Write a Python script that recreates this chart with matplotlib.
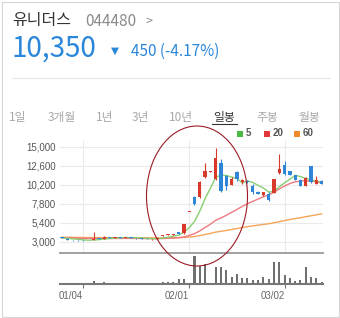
import matplotlib
matplotlib.use('Agg')
import numpy as np
import pandas as pd
import matplotlib.pyplot as plt
from matplotlib.patches import Ellipse, Rectangle

W, H = 340, 318

# daily candles, 50 sessions (12/28 .. 03/11)
opens = [3550, 3400, 3230, 3200, 3200, 3190, 3250, 3420, 3400, 3600,
         3520, 3560, 3500, 3580, 3490, 3420, 3380, 3320, 3350, 3700,
         3850, 3920, 4200, 4100, 6800, 8640, 8730, 11240, 11870, 10950,
         13030, 11360, 10240, 11780, 10620, 10700, 10020, 9270, 8860, 9070,
         9200, 11650, 12740, 11900, 11400, 10820, 10110, 12620, 10350, 10750]
highs = [3600, 3420, 3260, 3250, 3240, 3260, 4250, 3480, 3780, 3650,
         3580, 3600, 3600, 3620, 3520, 3450, 3420, 3380, 3480, 3880,
         3960, 4050, 4280, 5300, 6800, 8770, 10740, 13030, 11900, 14840,
         13460, 11450, 11150, 11990, 10950, 10780, 10320, 9480, 9300, 9270,
         11000, 14080, 13250, 11950, 11450, 10900, 11240, 12650, 11350, 10800]
lows = [3430, 3180, 3150, 3150, 3160, 3170, 3230, 3330, 3380, 3480,
        3470, 3480, 3480, 3470, 3400, 3360, 3300, 3280, 3340, 3680,
        3820, 3880, 3950, 4050, 6800, 7660, 8570, 11080, 11850, 10820,
        9360, 9570, 10200, 10650, 10300, 10450, 9070, 9030, 8850, 8100,
        9150, 11600, 11500, 11450, 10800, 10050, 10050, 10450, 10300, 10300]
closes = [3450, 3220, 3180, 3190, 3180, 3230, 3400, 3360, 3600, 3500,
          3560, 3500, 3580, 3490, 3420, 3380, 3320, 3350, 3450, 3850,
          3920, 3980, 4000, 5230, 6800, 7820, 10520, 11900, 11870, 13580,
          9480, 10110, 10950, 10950, 10850, 10550, 9270, 9070, 9270, 8320,
          10950, 12200, 11580, 11500, 10850, 10110, 11080, 10520, 10800, 10350]
# volume, thousand shares
volumes = [300, 250, 200, 200, 250, 300, 3500, 500, 2000, 400,
           350, 300, 400, 300, 250, 250, 300, 300, 500, 2000,
           2000, 2500, 5000, 4700, 900, 28000, 18000, 20000, 1200, 17300,
           17300, 14000, 7300, 10000, 5700, 6300, 4000, 4000, 6700, 4700,
           22000, 22500, 9000, 6500, 3300, 4000, 16700, 7300, 5700, 2300]
# closes before the visible window (for the moving averages)
history = [3720, 3700, 3750, 3680, 3650, 3700, 3660, 3640, 3690, 3710,
           3670, 3650, 3620, 3640, 3600, 3630, 3610, 3580, 3600, 3620,
           3590, 3570, 3600, 3650, 3620, 3580, 3560, 3590, 3610, 3570,
           3550, 3580, 3600, 3560, 3540, 3570, 3550, 3520, 3540, 3560,
           3530, 3500, 3520, 3540, 3510, 3490, 3520, 3500, 3480, 3510,
           3530, 3500, 3480, 3490, 3520, 3540, 3510, 3500, 3520]

tick_idx = [4, 24, 42]
tick_labels = ['01/04', '02/01', '03/02']
price_ticks = [3000, 5400, 7800, 10200, 12600, 15000]

tabs = ['1일', '3개월', '1년', '3년', '10년', '일봉', '주봉', '월봉']
tab_x = [18, 61.5, 104.5, 140.5, 181, 224.5, 267, 309]

RED = '#d8392b'
BLUE = '#2f86d6'
MA_COLORS = {5: '#86cf72', 20: '#ee7a7e', 60: '#f5a55a'}
LEG_COLORS = {5: '#4cb944', 20: '#e2383a', 60: '#f0892a'}

def fx(x):
    return x / W

def fy(y):
    return 1 - y / H

fig = plt.figure(figsize=(W / 100, H / 100), dpi=100)
fig.patch.set_facecolor('white')

# card border
fig.add_artist(Rectangle((fx(1.5), fy(316.5)), fx(337), 315 / H, transform=fig.transFigure,
                         fill=False, edgecolor='#d6d6d6', linewidth=0.8))

kr = ['Noto Sans CJK KR', 'DejaVu Sans']

# header
fig.text(fx(12), fy(21), '유니더스', fontsize=11.5, color='#333333', family=kr, va='center')
fig.text(fx(85), fy(21), '044480', fontsize=11, color='#8a8a8a', family=kr, va='center')
fig.text(fx(146), fy(21), '>', fontsize=9, color='#8a8a8a', family=kr, va='center')
fig.text(fx(11), fy(49), '10,350', fontsize=20, color='#2b87da', family=kr, va='center')
fig.text(fx(111), fy(51), '▼', fontsize=7.5, color='#2b87da', family='DejaVu Sans', va='center')
fig.text(fx(131), fy(51), '450 (-4.17%)', fontsize=11, color='#2b87da', family=kr, va='center')
fig.add_artist(plt.Line2D([fx(12), fx(330)], [fy(78), fy(78)], transform=fig.transFigure,
                          color='#e6e6e6', linewidth=0.8))

# period tabs
for t, x in zip(tabs, tab_x):
    c = '#333333' if t == '일봉' else '#a8a8a8'
    fig.text(fx(x), fy(117), t, fontsize=8.5, color=c, family=kr, ha='center', va='center')
fig.add_artist(plt.Line2D([fx(212), fx(237)], [fy(123.5), fy(123.5)], transform=fig.transFigure,
                          color='#333333', linewidth=0.8))

# legend
for n, x in zip([5, 20, 60], [237, 264, 294]):
    fig.add_artist(Rectangle((fx(x), fy(136.5)), 6 / W, 6 / H, transform=fig.transFigure,
                             facecolor=LEG_COLORS[n], edgecolor='none'))
    fig.text(fx(x + 9), fy(133.5), str(n), fontsize=7, fontweight='bold', color='#555555',
             family='Liberation Sans', va='center')

# price panel
ax = fig.add_axes([fx(60), fy(252.7), 263 / W, 111.7 / H])
idx = np.arange(len(closes))
o = np.array(opens)
c = np.array(closes)
up = c >= o
colors = np.where(up, RED, BLUE)
ax.vlines(idx, lows, highs, colors=colors, linewidth=0.8, zorder=3)
body_lo = np.minimum(o, c)
body_h = np.maximum(np.abs(c - o), 90)
ax.bar(idx, body_h, bottom=body_lo, width=0.62, color=colors, linewidth=0, zorder=4)

full = pd.Series(history + closes)
for n in [60, 20, 5]:
    ma = full.rolling(n).mean().to_numpy()[-len(closes):]
    ax.plot(idx, ma, color=MA_COLORS[n], linewidth=1.0, zorder=2)

ax.set_xlim(-0.38, 49.25)
ax.set_ylim(1621, 15753)
ax.set_yticks(price_ticks)
ax.set_yticklabels([f'{v:,}' for v in price_ticks], fontsize=7, color='#555555', family='Liberation Sans')
ax.tick_params(axis='y', length=0, pad=3)
ax.set_xticks(tick_idx)
ax.tick_params(axis='x', length=0, labelbottom=False)
ax.grid(True, color='#ebebeb', linewidth=0.8, zorder=0)
ax.set_axisbelow(True)
for s in ['top', 'left', 'right']:
    ax.spines[s].set_visible(False)
ax.spines['bottom'].set_color('#9a9a9a')
ax.spines['bottom'].set_linewidth(1.3)

# volume panel
axv = fig.add_axes([fx(60), fy(284), 263 / W, 29 / H])
axv.bar(idx, volumes, width=0.38, color='#707070', linewidth=0)
axv.set_xlim(-0.38, 49.25)
axv.set_ylim(0, 29000)
axv.set_yticks([])
axv.set_xticks(tick_idx)
axv.set_xticklabels(tick_labels, fontsize=7, color='#666666', family='Liberation Sans', ha='right')
axv.tick_params(axis='x', length=3, width=0.8, color='#777777', pad=2)
for s in ['top', 'left', 'right']:
    axv.spines[s].set_visible(False)
axv.spines['bottom'].set_color('#777777')
axv.spines['bottom'].set_linewidth(1.5)
for lbl in axv.get_xticklabels():
    lbl.set_x(lbl.get_position()[0])

# hand-drawn highlight
fig.add_artist(Ellipse((1.97, (H - 196) / 100), 1.01, 1.40, transform=fig.dpi_scale_trans,
                       fill=False, edgecolor='#9b1c26', linewidth=0.8))

fig.savefig('out.png', dpi=100, facecolor='white')
